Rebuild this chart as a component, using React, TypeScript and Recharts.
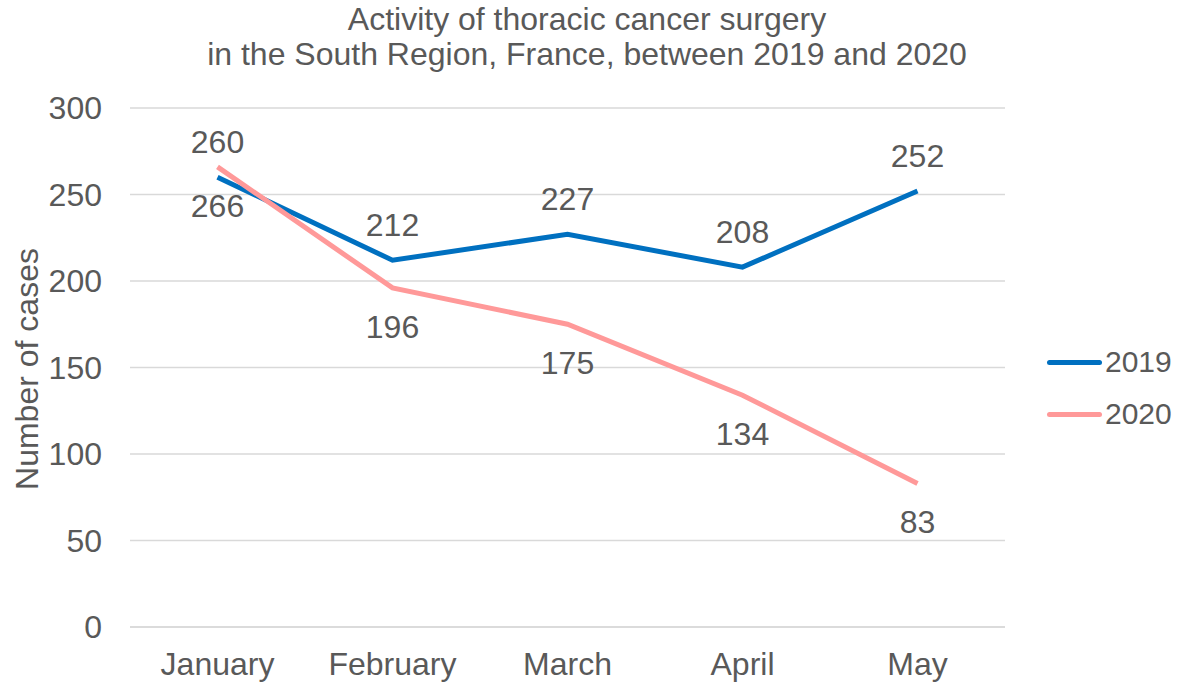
import { LineChart, Line, XAxis, YAxis, CartesianGrid } from 'recharts';

const months = ['January', 'February', 'March', 'April', 'May'];
const cases2019 = [260, 212, 227, 208, 252];
const cases2020 = [266, 196, 175, 134, 83];
const yTicks = [0, 50, 100, 150, 200, 250, 300];

const BLUE = '#0070C0';
const PINK = '#FF9999';
const TEXT = '#595959';
const FONT = 'Arial, "Liberation Sans", sans-serif';
const FS = 32;

const chartData = months.map((m, i) => ({
  month: m,
  y2019: cases2019[i],
  y2020: cases2020[i],
}));

function makeLabel(offset: number) {
  return (props: any) => {
    const { x, y, value } = props;
    return (
      <text
        x={x}
        y={y + offset}
        textAnchor="middle"
        dominantBaseline="central"
        fontSize={FS}
        fill={TEXT}
        fontFamily={FONT}
      >
        {value}
      </text>
    );
  };
}

const legendItems = [
  { name: '2019', color: BLUE, top: 340 },
  { name: '2020', color: PINK, top: 392 },
];

export default function App() {
  return (
    <div style={{ position: 'fixed', left: 0, top: 0, width: 1191, height: 684, background: '#fff', fontFamily: FONT }}>
      <div
        style={{
          position: 'absolute',
          left: 0,
          top: 2,
          width: 1174,
          textAlign: 'center',
          fontSize: FS,
          lineHeight: '35px',
          color: TEXT,
        }}
      >
        Activity of thoracic cancer surgery
        <br />
        in the South Region, France, between 2019 and 2020
      </div>
      {legendItems.map((it) => (
        <div
          key={it.name}
          style={{ position: 'absolute', left: 1047, top: it.top, height: 44, display: 'flex', alignItems: 'center' }}
        >
          <div style={{ width: 55, height: 5, borderRadius: 3, background: it.color, marginRight: 3 }} />
          <span style={{ fontSize: 30, color: TEXT }}>{it.name}</span>
        </div>
      ))}
      <div style={{ position: 'absolute', left: 0, top: 0 }}>
        <LineChart
          width={1191}
          height={684}
          data={chartData}
          margin={{ top: 108, right: 186, bottom: 0, left: 0 }}
        >
          <CartesianGrid vertical={false} stroke="#D9D9D9" strokeWidth={1.5} />
          <XAxis
            dataKey="month"
            height={57}
            padding={{ left: 87.5, right: 87.5 }}
            axisLine={{ stroke: '#D9D9D9', strokeWidth: 1.5 }}
            tickLine={false}
            tickMargin={19}
            tick={{ fontSize: FS, fill: TEXT, fontFamily: FONT }}
            interval={0}
          />
          <YAxis
            width={130}
            domain={[0, 300]}
            ticks={yTicks}
            axisLine={false}
            tickLine={false}
            tickMargin={22}
            tick={{ fontSize: FS, fill: TEXT, fontFamily: FONT }}
            label={{
              content: () => (
                <text
                  x={27}
                  y={369}
                  transform="rotate(-90 27 369)"
                  textAnchor="middle"
                  dominantBaseline="central"
                  fontSize={FS}
                  fill={TEXT}
                  fontFamily={FONT}
                >
                  Number of cases
                </text>
              ),
            }}
          />
          <Line
            dataKey="y2019"
            name="2019"
            stroke={BLUE}
            strokeWidth={5}
            dot={false}
            activeDot={false}
            isAnimationActive={false}
            label={makeLabel(-35)}
          />
          <Line
            dataKey="y2020"
            name="2020"
            stroke={PINK}
            strokeWidth={5}
            dot={false}
            activeDot={false}
            isAnimationActive={false}
            label={makeLabel(39)}
          />
        </LineChart>
      </div>
    </div>
  );
}
